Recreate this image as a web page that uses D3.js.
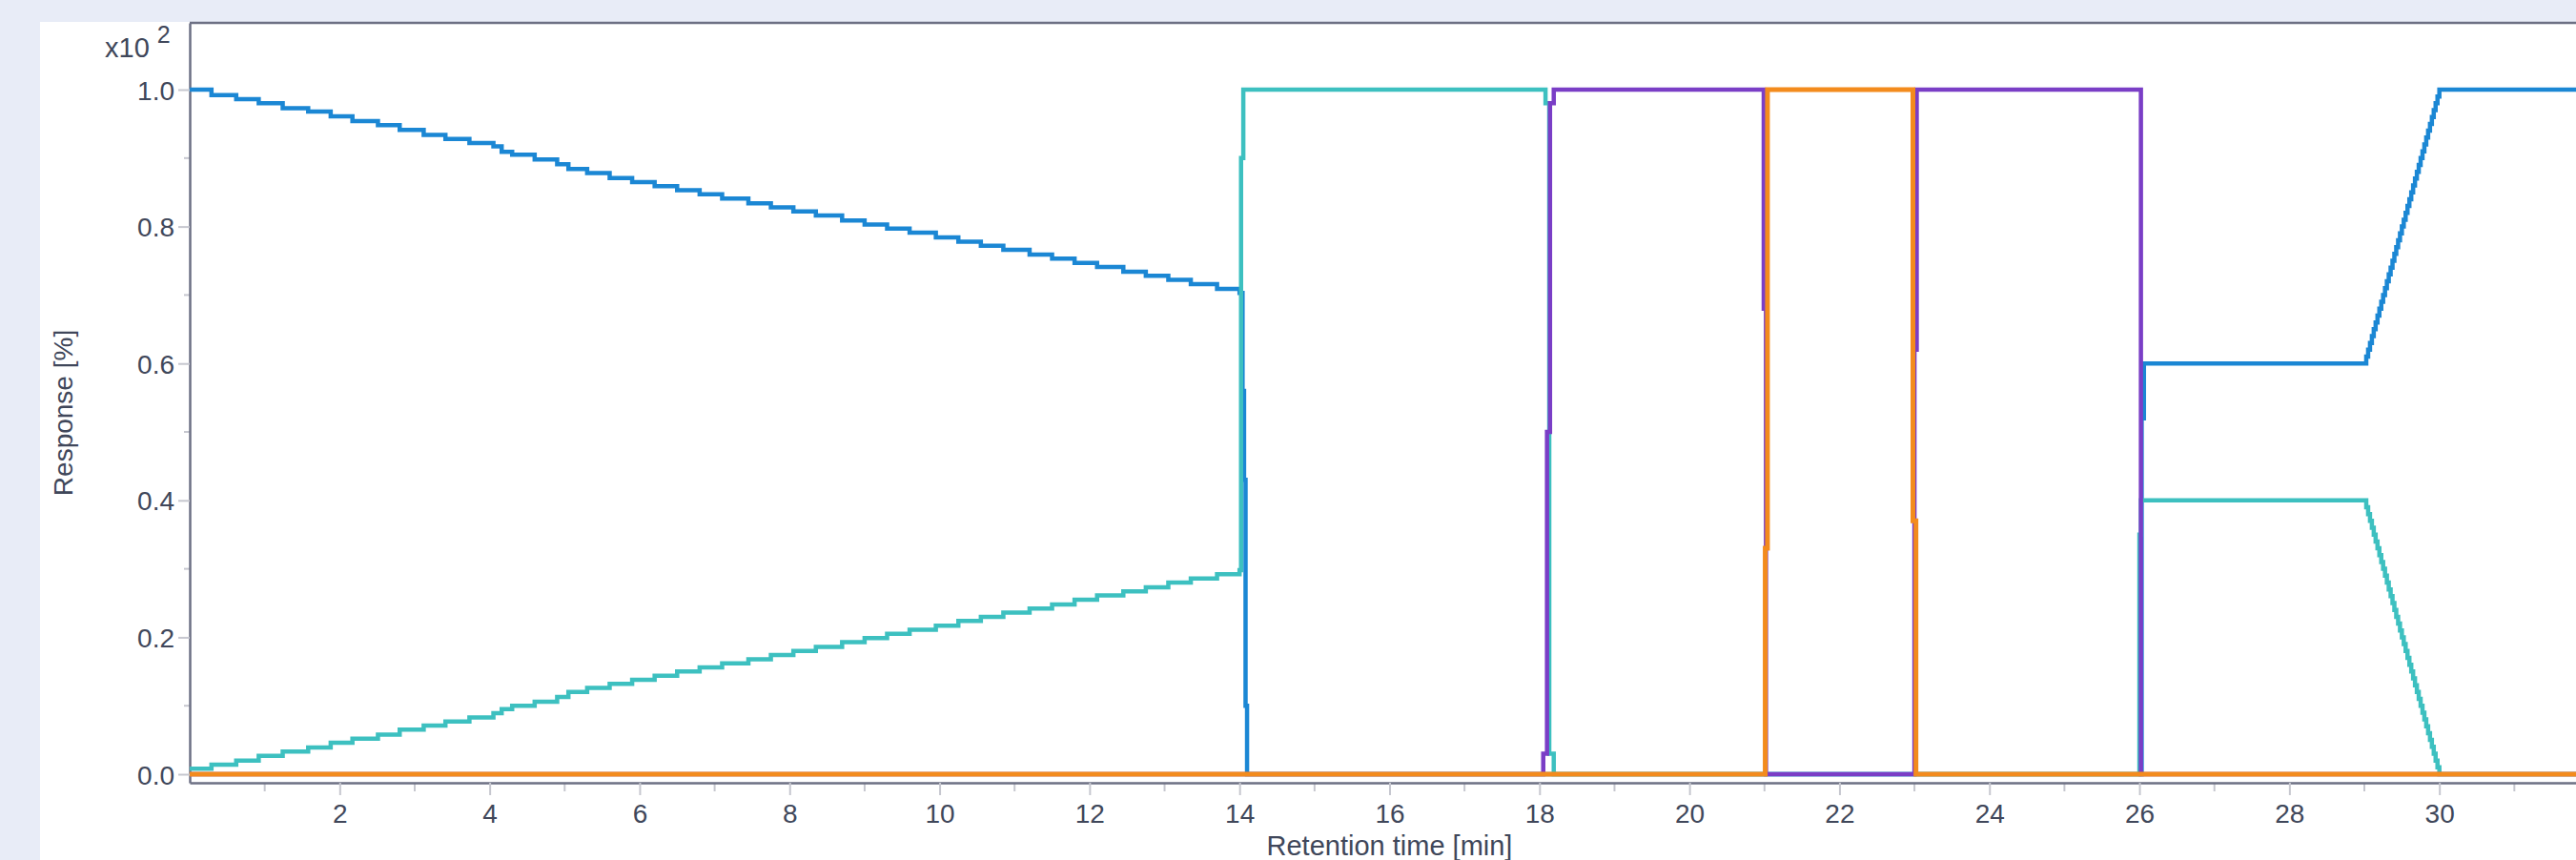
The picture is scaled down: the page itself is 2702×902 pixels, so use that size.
<!DOCTYPE html>
<html>
<head>
<meta charset="utf-8">
<script src="https://cdn.jsdelivr.net/npm/d3@7"></script>
<style>
  body { margin: 0; background: #e8ecf7; }
  svg { display: block; font-family: "Liberation Sans", Arial, sans-serif; }
</style>
</head>
<body>
<svg id="chart" width="2702" height="902"></svg>
<script>
// gradient part (0 - 14 min), the instrument draws it as small steps
const gradTime = [0, 0.29, 0.62, 0.92, 1.24, 1.58, 1.88, 2.17, 2.51, 2.80, 3.12, 3.41, 3.73, 4.05, 4.16, 4.30,
  4.60, 4.90, 5.05, 5.30, 5.60, 5.90, 6.20, 6.50, 6.80, 7.10, 7.45, 7.75, 8.05, 8.35, 8.70, 9.00,
  9.30, 9.60, 9.95, 10.25, 10.55, 10.85, 11.20, 11.50, 11.80, 12.10, 12.45, 12.75, 13.05, 13.35, 13.70, 14.00];
const blueGrad = [1.000, 0.992, 0.986, 0.980, 0.973, 0.968, 0.961, 0.954, 0.948, 0.941, 0.934, 0.928, 0.922, 0.917, 0.909, 0.905,
  0.898, 0.891, 0.884, 0.878, 0.871, 0.865, 0.859, 0.853, 0.847, 0.841, 0.834, 0.828, 0.822, 0.816, 0.809, 0.803,
  0.797, 0.791, 0.784, 0.778, 0.772, 0.766, 0.759, 0.753, 0.747, 0.741, 0.734, 0.728, 0.722, 0.716, 0.709, 0.703];
const tealGrad = [0.008, 0.014, 0.020, 0.027, 0.033, 0.039, 0.046, 0.052, 0.058, 0.065, 0.071, 0.077, 0.083, 0.089, 0.095, 0.100,
  0.106, 0.113, 0.120, 0.126, 0.132, 0.138, 0.144, 0.150, 0.156, 0.162, 0.168, 0.174, 0.180, 0.186, 0.193, 0.199,
  0.205, 0.211, 0.217, 0.224, 0.230, 0.236, 0.242, 0.248, 0.255, 0.261, 0.267, 0.273, 0.280, 0.286, 0.292, 0.298];

// re-equilibration ramp (29 - 30 min)
const rampTime = [29.000, 29.025, 29.050, 29.075, 29.100, 29.125, 29.150, 29.175, 29.200, 29.225,
  29.250, 29.275, 29.300, 29.325, 29.350, 29.375, 29.400, 29.425, 29.450, 29.475,
  29.500, 29.525, 29.550, 29.575, 29.600, 29.625, 29.650, 29.675, 29.700, 29.725,
  29.750, 29.775, 29.800, 29.825, 29.850, 29.875, 29.900, 29.925, 29.950, 29.975, 30.000];
const blueRamp = [0.60, 0.61, 0.62, 0.63, 0.64, 0.65, 0.66, 0.67, 0.68, 0.69,
  0.70, 0.71, 0.72, 0.73, 0.74, 0.75, 0.76, 0.77, 0.78, 0.79,
  0.80, 0.81, 0.82, 0.83, 0.84, 0.85, 0.86, 0.87, 0.88, 0.89,
  0.90, 0.91, 0.92, 0.93, 0.94, 0.95, 0.96, 0.97, 0.98, 0.99, 1.00];
const tealRamp = [0.40, 0.39, 0.38, 0.37, 0.36, 0.35, 0.34, 0.33, 0.32, 0.31,
  0.30, 0.29, 0.28, 0.27, 0.26, 0.25, 0.24, 0.23, 0.22, 0.21,
  0.20, 0.19, 0.18, 0.17, 0.16, 0.15, 0.14, 0.13, 0.12, 0.11,
  0.10, 0.09, 0.08, 0.07, 0.06, 0.05, 0.04, 0.03, 0.02, 0.01, 0.00];

// switching points [time, fraction]
const blueSteps = [[14.04, 0.56], [14.06, 0.43], [14.08, 0.10], [14.10, 0], [26.03, 0.52], [26.06, 0.60]];
const tealSteps = [[14.02, 0.90], [14.05, 1.0], [18.08, 0.98], [18.13, 0.03], [18.19, 0], [26.00, 0.35], [26.02, 0.40]];
const purpleSteps = [[0, 0], [18.05, 0.03], [18.10, 0.50], [18.14, 0.98], [18.19, 1.0], [20.99, 0.68], [21.02, 0],
  [23.00, 0.62], [23.03, 1.0], [26.02, 0], [32, 0]];
const orangeSteps = [[0, 0], [21.01, 0.33], [21.04, 1.0], [22.98, 0.37], [23.02, 0], [32, 0]];

const yTicks = [0, 0.2, 0.4, 0.6, 0.8, 1.0];
const yMinor = [0.1, 0.3, 0.5, 0.7, 0.9];
const xTicks = [2, 4, 6, 8, 10, 12, 14, 16, 18, 20, 22, 24, 26, 28, 30];
const xMinor = [1, 3, 5, 7, 9, 11, 13, 15, 17, 19, 21, 23, 25, 27, 29, 31];

const blue = gradTime.map((t, i) => [t, blueGrad[i]])
  .concat(blueSteps, rampTime.map((t, i) => [t, blueRamp[i]]), [[32, 1.0]]);
const teal = gradTime.map((t, i) => [t, tealGrad[i]])
  .concat(tealSteps, rampTime.map((t, i) => [t, tealRamp[i]]), [[32, 0]]);

const series = [
  {data: blue, color: '#1b87d4', width: 4.5},
  {data: teal, color: '#3dc0c0', width: 4.5},
  {data: purpleSteps, color: '#7a3ec6', width: 4.5},
  {data: orangeSteps, color: '#f38b1d', width: 5}
];

const svg = d3.select('#chart');
const plotLeft = 199, plotRight = 2716, plotTop = 24, plotBottom = 821;

svg.append('rect').attr('x', 42).attr('y', 23).attr('width', 2702).attr('height', 902).attr('fill', '#ffffff');

const x = d3.scaleLinear().domain([0, 32]).range([plotLeft, plotRight]);
const y = d3.scaleLinear().domain([-0.0125, 1.0975]).range([plotBottom, plotTop]);

const axisColor = '#6d7084';
const tickColor = '#c6c7cf';
const textColor = '#40475a';

// minor ticks
svg.append('g').selectAll('line').data(yMinor).join('line')
  .attr('x1', plotLeft - 6).attr('x2', plotLeft).attr('y1', d => y(d)).attr('y2', d => y(d))
  .attr('stroke', tickColor).attr('stroke-width', 2);
svg.append('g').selectAll('line').data(xMinor).join('line')
  .attr('x1', d => x(d)).attr('x2', d => x(d)).attr('y1', plotBottom).attr('y2', plotBottom + 9)
  .attr('stroke', tickColor).attr('stroke-width', 2);

const yAxis = svg.append('g').attr('transform', `translate(${plotLeft},0)`)
  .call(d3.axisLeft(y).tickValues(yTicks).tickFormat(d3.format('.1f')).tickSize(12).tickSizeOuter(0));
yAxis.select('.domain').attr('stroke', axisColor).attr('stroke-width', 2.5);
yAxis.selectAll('.tick line').attr('stroke', tickColor).attr('stroke-width', 2);
yAxis.selectAll('.tick text').attr('x', -16).attr('dy', '0.36em')
  .attr('fill', textColor).style('font-size', '28px').style('font-family', '"Liberation Sans", Arial, sans-serif');

const xAxis = svg.append('g').attr('transform', `translate(0,${plotBottom})`)
  .call(d3.axisBottom(x).tickValues(xTicks).tickFormat(d3.format('d')).tickSize(13).tickSizeOuter(0));
xAxis.select('.domain').attr('stroke', axisColor).attr('stroke-width', 2.5);
xAxis.selectAll('.tick line').attr('stroke', tickColor).attr('stroke-width', 2);
xAxis.selectAll('.tick text').attr('y', 42).attr('dy', 0)
  .attr('fill', textColor).style('font-size', '28px').style('font-family', '"Liberation Sans", Arial, sans-serif');

// top frame line
svg.append('line').attr('x1', plotLeft).attr('x2', plotRight).attr('y1', plotTop).attr('y2', plotTop)
  .attr('stroke', axisColor).attr('stroke-width', 2.5);

// traces
const line = d3.line().x(d => x(d[0])).y(d => y(d[1])).curve(d3.curveStepAfter);
svg.append('g').selectAll('path').data(series).join('path')
  .attr('d', d => line(d.data))
  .attr('fill', 'none')
  .attr('stroke', d => d.color)
  .attr('stroke-width', d => d.width);

// labels
const exp = svg.append('text').attr('x', 110).attr('y', 60).attr('fill', textColor).style('font-size', '29px');
exp.append('tspan').text('x10');
exp.append('tspan').attr('dx', 8).attr('dy', -15).style('font-size', '25px').text('2');

svg.append('text')
  .attr('transform', `translate(76,433) rotate(-90)`)
  .attr('text-anchor', 'middle').attr('fill', textColor).style('font-size', '28px')
  .text('Response [%]');

svg.append('text')
  .attr('x', x(16)).attr('y', 897)
  .attr('text-anchor', 'middle').attr('fill', textColor).style('font-size', '29px')
  .text('Retention time [min]');
</script>
</body>
</html>
